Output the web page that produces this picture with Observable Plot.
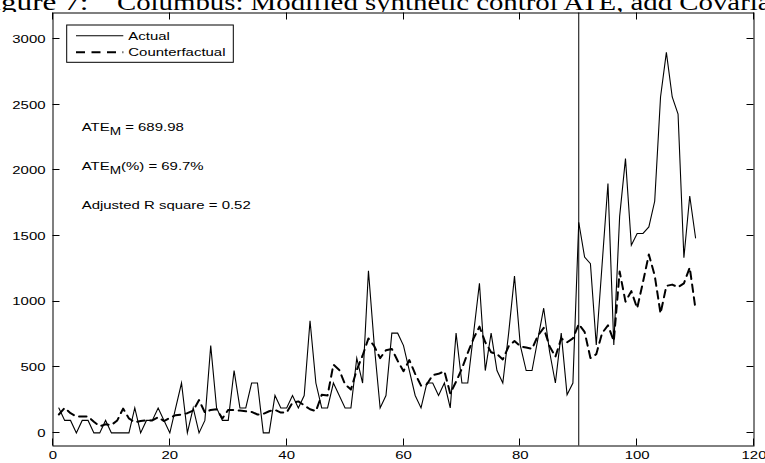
<!DOCTYPE html>
<html>
<head>
<meta charset="utf-8">
<script src="https://cdn.jsdelivr.net/npm/d3@7"></script>
<script src="https://cdn.jsdelivr.net/npm/@observablehq/plot@0.6"></script>
<style>
  html, body { margin: 0; padding: 0; background: #fff; overflow: hidden; }
  #title { position: relative; height: 12px; overflow: hidden; }
  #title span {
    position: absolute; bottom: -2px;
    font-family: "Liberation Serif", "Times New Roman", serif;
    font-size: 24px; line-height: 24px; white-space: nowrap; color: #000;
    transform: scaleX(1.2); transform-origin: left bottom;
  }
  #title .lab { left: -25px; transform: scaleX(1.3); }
  #title .txt { left: 117px; }
  #chart svg { display: block; }
</style>
</head>
<body>
<div id="title"><span class="lab">Figure 7:</span><span class="txt">Columbus: Modified synthetic control ATE, add Covariates</span></div>
<div id="chart"></div>
<script>
// Period index 1..110
const periods = d3.range(1, 111);

// Observed outcome for Columbus
const actual = [
  190, 95, 95, 0, 95, 95, 0, 0, 95, 0,
  0, 0, 0, 190, 0, 95, 95, 190, 95, 0,
  190, 380, 0, 190, 0, 95, 665, 190, 95, 95,
  475, 190, 190, 380, 380, 0, 0, 285, 190, 190,
  285, 190, 285, 855, 380, 190, 190, 380, 285, 190,
  190, 570, 380, 1235, 665, 190, 285, 760, 760, 665,
  475, 285, 190, 380, 380, 285, 380, 190, 760, 380,
  380, 760, 1140, 475, 760, 475, 380, 760, 1195, 665,
  475, 475, 715, 950, 620, 380, 760, 290, 380, 1605,
  1340, 1290, 670, 1285, 1900, 670, 1650, 2090, 1430, 1520,
  1520, 1570, 1765, 2560, 2900, 2560, 2430, 1335, 1805, 1485
];

// Synthetic-control counterfactual
const counterfactual = [
  140, 190, 150, 125, 125, 125, 85, 50, 65, 60,
  95, 185, 110, 80, 90, 95, 95, 120, 90, 115,
  135, 140, 150, 170, 250, 155, 175, 180, 110, 175,
  175, 170, 165, 160, 140, 145, 165, 175, 155, 155,
  230, 240, 210, 180, 165, 290, 285, 520, 480, 370,
  330, 480, 590, 720, 660, 570, 630, 640, 550, 470,
  555, 450, 360, 370, 440, 450, 470, 300, 390, 490,
  610, 720, 810, 690, 615, 600, 560, 660, 700, 660,
  650, 640, 740, 800, 660, 580, 720, 690, 720, 830,
  770, 570, 600, 760, 820, 700, 1230, 1000, 1080, 950,
  1150, 1360, 1200, 910, 1120, 1130, 1110, 1140, 1260, 940
];

const treatmentStart = 90;
const xTicks = [0, 20, 40, 60, 80, 100, 120];
const yTicks = [0, 500, 1000, 1500, 2000, 2500, 3000];

// Summary statistics shown in the plot
const ateM = 689.98;
const ateMPct = 69.7;
const adjR2 = 0.52;
const noteX = 5;
const noteY = [2300, 2000, 1700];

const seriesNames = ["Actual", "Counterfactual"];

const rows = periods.map((p, i) => ({period: p, actual: actual[i], cf: counterfactual[i]}));

const STRETCH = 1.3;
const FONT = "'Liberation Sans', Arial, Helvetica, sans-serif";

const chart = Plot.plot({
  width: 765,
  height: 451,
  marginLeft: 52.5,
  marginRight: 11.5,
  marginTop: 0.5,
  marginBottom: 17.5,
  style: {fontFamily: FONT, fontSize: "11.5px", color: "#000", background: "#fff"},
  x: {domain: [0, 120], label: null},
  y: {domain: [-100, 3200], label: null},
  marks: [
    Plot.axisX({ticks: xTicks, tickSize: 0, tickPadding: 5, label: null, tickFormat: d => String(d)}),
    Plot.axisY({ticks: yTicks, tickSize: 0, tickPadding: 7.5, label: null, tickFormat: d => String(d)}),
    Plot.ruleX([treatmentStart], {stroke: "#000", strokeWidth: 1}),
    Plot.line(rows, {x: "period", y: "actual", stroke: "#000", strokeWidth: 1.1, strokeLinejoin: "miter", strokeMiterlimit: 6}),
    Plot.line(rows, {x: "period", y: "cf", stroke: "#000", strokeWidth: 2, strokeDasharray: "7.5,5.5"}),
    Plot.frame({stroke: "#000", strokeWidth: 1})
  ]
});

document.getElementById("chart").appendChild(chart);

const svg = d3.select(chart);
const sx = chart.scale("x"), sy = chart.scale("y");
const X = v => sx.apply(v), Y = v => sy.apply(v);
const frameL = X(0), frameR = X(120), frameT = Y(3200), frameB = Y(-100);

// Widen the sans-serif tick labels to the figure's proportions
function stretch(el) {
  const t = el.getAttribute("transform") || "";
  const x = el.getAttribute("x");
  let pre = "";
  if (x !== null && !/em$/.test(x)) { pre = ` translate(${+x},0)`; el.removeAttribute("x"); }
  el.setAttribute("transform", `${t}${pre} scale(${STRETCH},1)`);
}
svg.selectAll("text").each(function() { stretch(this); });

// Inward ticks on all four sides of the box
const TL = 7;
let tickPath = "";
xTicks.forEach(v => {
  const px = Math.round(X(v) - 0.5) + 0.5;
  tickPath += `M${px},${frameB}V${frameB - TL}M${px},${frameT}V${frameT + TL}`;
});
yTicks.forEach(v => {
  const py = Math.round(Y(v) - 0.5) + 0.5;
  tickPath += `M${frameL},${py}H${frameL + TL}M${frameR},${py}H${frameR - TL}`;
});
svg.append("path").attr("d", tickPath)
  .attr("fill", "none").attr("stroke", "#000").attr("stroke-width", 1);

// Annotations with subscripted M
const notes = [
  ["ATE", "M", ` = ${ateM.toFixed(2)}`],
  ["ATE", "M", `(%) = ${ateMPct.toFixed(1)}%`],
  ["Adjusted R square = " + adjR2.toFixed(2), "", ""]
];
const ng = svg.append("g").attr("font-family", FONT).attr("font-size", 11.5)
  .attr("fill", "#000").attr("text-anchor", "start");
notes.forEach((n, i) => {
  const t = ng.append("text")
    .attr("transform", `translate(${X(noteX)},${Y(noteY[i])}) scale(${STRETCH},1)`);
  t.append("tspan").text(n[0]);
  if (n[1]) {
    t.append("tspan").attr("dy", 4.5).attr("font-size", 10.5).text(n[1]);
    t.append("tspan").attr("dy", -4.5).text(n[2]);
  }
});

// Legend box
const lg = svg.append("g").attr("transform", `translate(${frameL + 14.2},${frameT + 12.5})`)
  .attr("text-anchor", "start");
lg.append("rect").attr("width", 166.6).attr("height", 37.3)
  .attr("fill", "#fff").attr("stroke", "#000").attr("stroke-width", 1);
seriesNames.forEach((name, i) => {
  const yy = 10.7 + i * 16.6;
  lg.append("line").attr("x1", 9.3).attr("x2", 56.6).attr("y1", yy).attr("y2", yy)
    .attr("stroke", "#000")
    .attr("stroke-width", i === 0 ? 1.1 : 2)
    .attr("stroke-dasharray", i === 0 ? null : "9,6.5");
  lg.append("text")
    .attr("transform", `translate(61.6,${yy + 4}) scale(${STRETCH},1)`)
    .attr("font-family", FONT).attr("font-size", 11.5).attr("fill", "#000").text(name);
});
</script>
</body>
</html>
